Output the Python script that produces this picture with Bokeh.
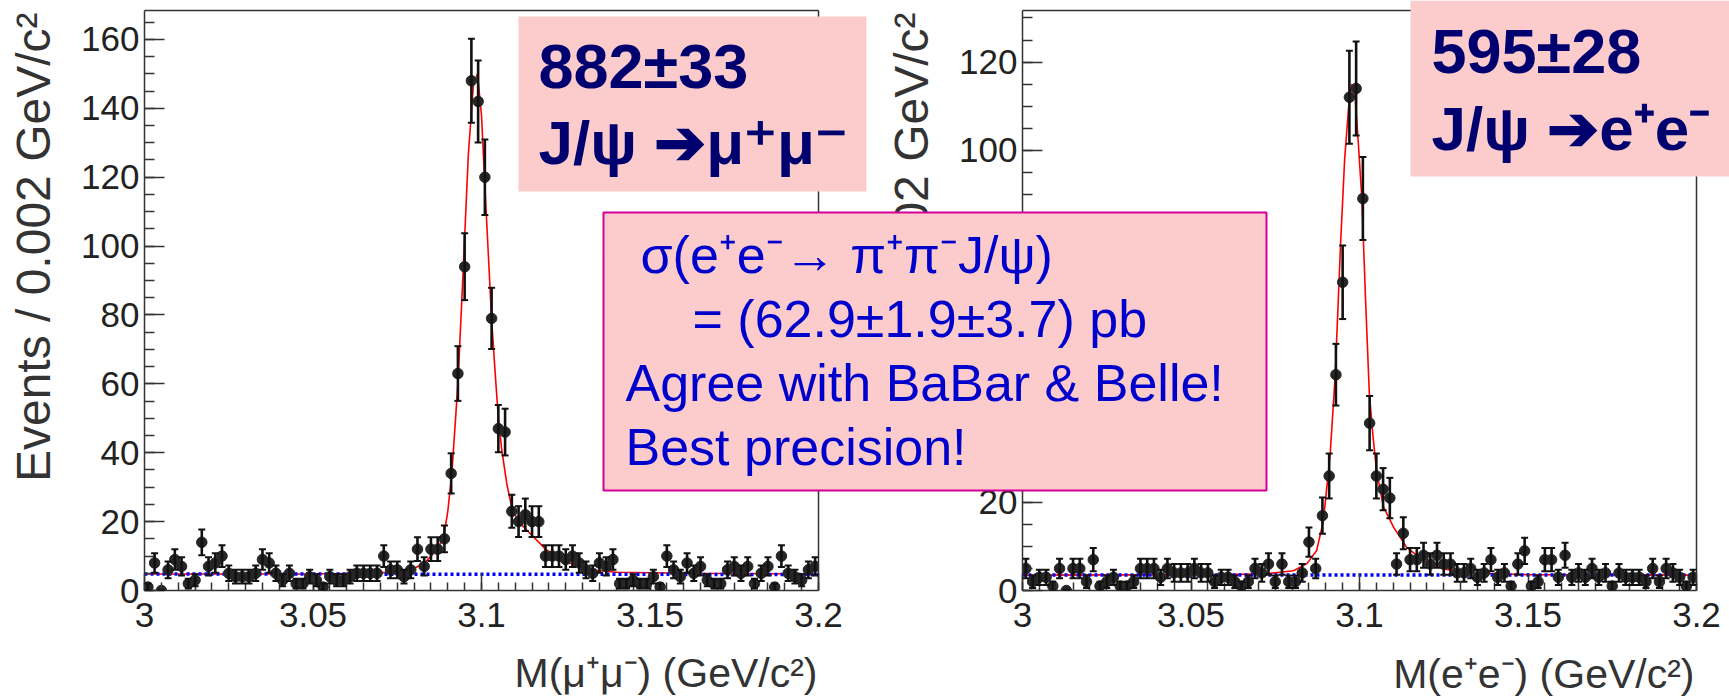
import math
import numpy as np
from bokeh.plotting import figure
from bokeh.models import (Range1d, LinearAxis, SingleIntervalTicker, FixedTicker,
                          CustomJSTickFormatter, ColumnDataSource, Whisker, TeeHead,
                          Label, BoxAnnotation)
from bokeh.layouts import row, column
from bokeh.embed import file_html
from bokeh.resources import INLINE

# ---------------- data ----------------
bin_start = 3.0
bin_width = 0.002
mass_centers = [round(bin_start + bin_width * (i + 0.5), 4) for i in range(100)]

counts_mumu = [1, 8, 0, 6, 9, 7, 2, 3, 14, 7,
               8, 10, 5, 4, 4, 4, 5, 9, 8, 5,
               3, 5, 2, 2, 4, 3, 1, 4, 3, 3,
               4, 5, 5, 5, 5, 10, 6, 6, 4, 6,
               12, 7, 12, 12, 15, 34, 63, 94, 148, 142,
               120, 79, 47, 46, 23, 20, 22, 20, 20, 10,
               10, 10, 9, 10, 8, 6, 5, 8, 7, 9,
               2, 2, 3, 2, 2, 4, 1, 10, 6, 4,
               8, 5, 7, 3, 2, 2, 6, 7, 5, 7,
               2, 5, 7, 1, 10, 5, 4, 3, 6, 7]

counts_ee = [5, 2, 3, 3, 1, 5, 0, 5, 5, 2,
             7, 1, 2, 3, 1, 1, 2, 5, 5, 5,
             3, 5, 4, 4, 4, 5, 4, 4, 2, 3,
             3, 2, 1, 2, 5, 4, 6, 2, 6, 2,
             2, 4, 11, 5, 17, 26, 49, 70, 112, 114,
             89, 38, 26, 23, 21, 6, 13, 7, 7, 8,
             6, 8, 6, 6, 4, 4, 5, 3, 4, 7,
             3, 4, 1, 6, 9, 1, 2, 7, 7, 3,
             8, 3, 4, 3, 5, 3, 4, 1, 4, 3,
             3, 3, 2, 5, 2, 5, 4, 3, 1, 3]

fit_mumu_x = [3.000, 3.050, 3.065, 3.0774, 3.0804, 3.0833, 3.0855, 3.0873, 3.0890,
              3.0900, 3.0912, 3.0930, 3.0946, 3.0961, 3.0976, 3.0988, 3.1000, 3.1009,
              3.1030, 3.1040, 3.1050, 3.1060, 3.1075, 3.1090, 3.1110, 3.1140, 3.1190,
              3.1240, 3.1290, 3.1340, 3.1400, 3.1600, 3.2000]
fit_mumu_y = [4.8, 4.8, 5.0, 5.4, 6.6, 8.2, 10.5, 12.5, 17.0,
              23.0, 34.0, 60.0, 93.7, 126.7, 147.0, 150.0, 138.0, 119.5,
              78.7, 64.0, 50.0, 41.0, 31.0, 24.0, 20.0, 17.0, 12.0,
              8.8, 6.9, 5.9, 5.3, 5.0, 4.8]

fit_ee_x = [3.000, 3.060, 3.0725, 3.0804, 3.0844, 3.0873, 3.0893, 3.0913, 3.0928,
            3.0944, 3.0956, 3.0968, 3.0977, 3.0987, 3.0997, 3.1007, 3.1018, 3.1029,
            3.1040, 3.1051, 3.1071, 3.1101, 3.1140, 3.1190, 3.1249, 3.1338, 3.1500, 3.2000]
fit_ee_y = [3.5, 3.6, 3.8, 4.5, 6.1, 9.1, 15.9, 31.0, 49.0,
            79.0, 98.0, 110.0, 115.0, 112.0, 101.0, 89.0, 66.0, 45.0,
            35.0, 27.0, 19.0, 14.4, 9.8, 6.8, 4.9, 3.9, 3.6, 3.5]

bkg_x = [3.0, 3.2]
bkg_mumu_y = [4.8, 4.65]
bkg_ee_y = [3.5, 3.5]

x_title_mumu = "M(μ⁺μ⁻) (GeV/c²)"
x_title_ee = "M(e⁺e⁻) (GeV/c²)"
y_title = "Events / 0.002 GeV/c²"
yield_mumu = ["882±33", "J/ψ ➔μ⁺μ⁻"]
yield_ee = ["595±28", "J/ψ ➔e⁺e⁻"]
summary = ["σ(e⁺e⁻→ π⁺π⁻J/ψ)", "= (62.9±1.9±3.7) pb",
           "Agree with BaBar & Belle!", "Best precision!"]

# ---------------- layout / style ----------------
FONT = "Liberation Sans"
PINK = "#fccbcb"
NAVY = "#00006e"
BLUE = "#0000cc"
MAGENTA = "#d4009a"
TITLE_INK = "#333333"
BASELINE_SHIFT = 0.36   # measured offset (in em) of the rendered baseline below the anchor

PAGE_W, PAGE_H = 1729, 699
# frame geometry in page pixels
P1 = dict(fl=144, fr=818, ft=10, fb=590, y1=168.4, width=880, left=0)
P2 = dict(fl=1022, fr=1696, ft=10, fb=590, y1=131.7, width=1169, left=560)


def style_axis(ax, major_in, minor_in):
    ax.axis_line_color = "#333333"
    ax.axis_line_width = 1.5
    ax.major_tick_line_color = "#333333"
    ax.major_tick_line_width = 1.5
    ax.minor_tick_line_color = "#333333"
    ax.minor_tick_line_width = 1.5
    ax.major_tick_in = major_in
    ax.major_tick_out = 0
    ax.minor_tick_in = minor_in
    ax.minor_tick_out = 0
    ax.major_label_text_font = FONT
    ax.major_label_text_font_size = "35px"
    ax.major_label_text_color = "#222222"


def panel(g, counts, fit_x, fit_y, bkg_y, transparent=False):
    right_border = g["width"] - (g["fr"] - g["left"])
    p = figure(width=g["width"], height=PAGE_H,
               x_range=Range1d(3.0, 3.2), y_range=Range1d(0, g["y1"]),
               x_axis_type=None, y_axis_type=None,
               output_backend="svg", toolbar_location=None,
               min_border_left=g["fl"] - g["left"], min_border_right=right_border,
               min_border_top=g["ft"], min_border_bottom=PAGE_H - g["fb"])
    p.outline_line_color = None
    if transparent:
        p.background_fill_color = None
        p.border_fill_color = None

    xax = LinearAxis(ticker=SingleIntervalTicker(interval=0.05, num_minor_ticks=10),
                     formatter=CustomJSTickFormatter(code="return String(Number(tick.toFixed(3)));"))
    style_axis(xax, 17, 8)
    xax.major_label_standoff = 12
    p.add_layout(xax, "below")

    yax = LinearAxis(ticker=SingleIntervalTicker(interval=20, num_minor_ticks=4))
    style_axis(yax, 20, 10)
    yax.major_label_standoff = 5
    p.add_layout(yax, "left")

    for side in ("above", "right"):
        ax = LinearAxis(ticker=FixedTicker(ticks=[]))
        style_axis(ax, 0, 0)
        ax.major_tick_line_color = None
        ax.minor_tick_line_color = None
        p.add_layout(ax, side)

    counts = np.array(counts, dtype=float)
    err = np.sqrt(counts)
    src = ColumnDataSource(dict(x=mass_centers, y=counts, lo=counts - err, hi=counts + err))

    p.line(fit_x, fit_y, line_color="#ff0000", line_width=1.6)
    p.line(bkg_x, bkg_y, line_color="#0000ff", line_width=3.5, line_dash="3 3")

    wk = Whisker(source=src, base="x", upper="hi", lower="lo", line_color="#111111",
                 line_width=2.6, level="annotation",
                 upper_head=TeeHead(size=7, line_color="#111111", line_width=2),
                 lower_head=TeeHead(size=7, line_color="#111111", line_width=2))
    p.add_layout(wk)
    p.scatter("x", "y", source=src, size=10.5, fill_color="#262626", line_color="#262626")
    return p


p1 = panel(P1, counts_mumu, fit_mumu_x, fit_mumu_y, bkg_mumu_y)
p2 = panel(P2, counts_ee, fit_ee_x, fit_ee_y, bkg_ee_y, transparent=True)
p2.margin = (0, 0, 0, -(P1["width"] - P2["left"]))

# ---------------- overlay canvas for titles and text boxes (page pixels) ----------------
ov = figure(width=PAGE_W, height=PAGE_H, x_range=Range1d(0, PAGE_W), y_range=Range1d(0, PAGE_H),
            x_axis_type=None, y_axis_type=None, output_backend="svg", toolbar_location=None,
            min_border_left=0, min_border_right=0, min_border_top=0, min_border_bottom=0)
ov.outline_line_color = None
ov.background_fill_color = None
ov.border_fill_color = None
ov.margin = (-PAGE_H, 0, 0, 0)


def label(px, py, text, size, color, bold=False, align="left", rotated=False):
    shift = BASELINE_SHIFT * size
    if rotated:
        px, angle = px - shift, math.pi / 2
    else:
        py, angle = py - shift, 0.0
    ov.add_layout(Label(x=px, y=PAGE_H - py, text=text, text_font=FONT,
                        text_font_size=f"{size}px", text_color=color,
                        text_font_style="bold" if bold else "normal",
                        text_align=align, text_baseline="alphabetic", angle=angle))


def box(l, r, t, b, fill, line=None, lw=0):
    ov.add_layout(BoxAnnotation(left=l, right=r, bottom=PAGE_H - b, top=PAGE_H - t,
                                fill_color=fill, fill_alpha=1.0, line_color=line,
                                line_width=lw, line_alpha=1.0))


# axis titles (baseline positions in page pixels)
label(50, 12, y_title, 48, TITLE_INK, align="right", rotated=True)
label(817, 687, x_title_mumu, 41, TITLE_INK, align="right")
label(928, 12, y_title, 48, TITLE_INK, align="right", rotated=True)
label(1694, 688, x_title_ee, 41, TITLE_INK, align="right")

# yield boxes
box(518, 866, 16, 191, PINK)
label(538, 88, yield_mumu[0], 63, NAVY, bold=True)
label(538, 164, yield_mumu[1], 62, NAVY, bold=True)
box(1410, 1729, 0, 176, PINK)
label(1431, 73, yield_ee[0], 63, NAVY, bold=True)
label(1431, 150, yield_ee[1], 62, NAVY, bold=True)

# summary box
box(603, 1266, 212, 490, PINK, MAGENTA, 2)
label(640, 273, summary[0], 52, BLUE)
label(692, 337, summary[1], 52, BLUE)
label(625, 401, summary[2], 52, BLUE)
label(625, 465, summary[3], 52, BLUE)

layout = column(row(p1, p2), ov)
open("out.html", "w").write(file_html(layout, INLINE))
